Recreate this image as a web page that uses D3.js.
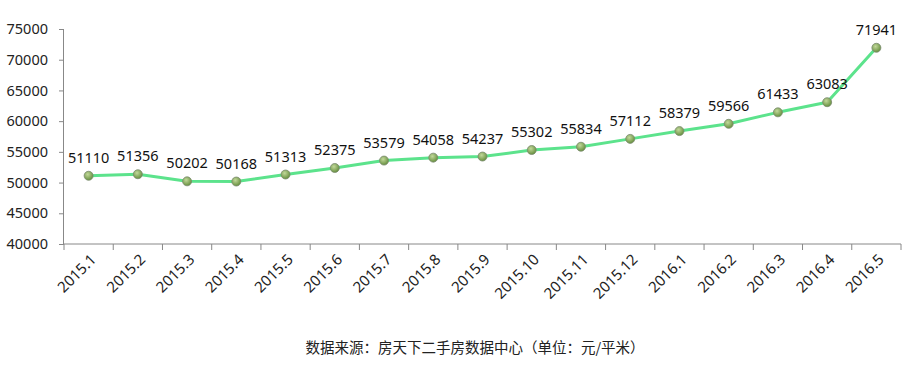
<!DOCTYPE html>
<html>
<head>
<meta charset="utf-8">
<script src="https://cdn.jsdelivr.net/npm/d3@7"></script>
<style>
  body { margin: 0; background: #fff; }
  svg { display: block; }
</style>
</head>
<body>
<svg width="920" height="370"></svg>
<script>
const months = ["2015.1","2015.2","2015.3","2015.4","2015.5","2015.6","2015.7","2015.8","2015.9","2015.10","2015.11","2015.12","2016.1","2016.2","2016.3","2016.4","2016.5"];
const prices = [51110,51356,50202,50168,51313,52375,53579,54058,54237,55302,55834,57112,58379,59566,61433,63083,71941];
const yTicks = [40000,45000,50000,55000,60000,65000,70000,75000];
const source = "数据来源：房天下二手房数据中心（单位：元/平米）";

const font = "'Noto Sans', 'Noto Sans CJK SC', sans-serif";
const cjk = "'Noto Sans CJK SC', sans-serif";
const svg = d3.select("svg");
const plotLeft = 64, plotRight = 901, plotTop = 29, plotBottom = 244;

const x = d3.scaleBand().domain(months).range([plotLeft, plotRight]);
const y = d3.scaleLinear().domain([40000, 75000]).range([plotBottom, plotTop]);
const cx = m => x(m) + x.bandwidth() / 2;

// gradient for the markers
const grad = svg.append("defs").append("radialGradient")
  .attr("id", "dot").attr("cx", "40%").attr("cy", "35%").attr("r", "65%");
grad.append("stop").attr("offset", "0%").attr("stop-color", "#c2d89a");
grad.append("stop").attr("offset", "100%").attr("stop-color", "#67903f");

// y axis
const yAxis = svg.append("g")
  .attr("transform", `translate(${plotLeft},0)`)
  .call(d3.axisLeft(y).tickValues(yTicks).tickSize(5).tickPadding(11).tickFormat(d3.format("d")));
yAxis.select(".domain").attr("stroke", "#888").attr("d", `M-0.5,${plotTop}V${plotBottom}`);
yAxis.selectAll(".tick line").attr("stroke", "#888");
yAxis.selectAll("text").attr("font-family", font).attr("font-size", 14.5).attr("fill", "#222");

// x axis, ticks at category boundaries
const xAxis = svg.append("g").attr("transform", `translate(0,${plotBottom})`);
xAxis.append("line").attr("x1", plotLeft).attr("x2", plotRight).attr("stroke", "#888");
xAxis.selectAll("line.tk")
  .data(months.map(m => x(m)).concat([plotRight]))
  .join("line").attr("class", "tk")
  .attr("x1", d => d).attr("x2", d => d).attr("y1", 0).attr("y2", 6)
  .attr("stroke", "#888");
xAxis.selectAll("text")
  .data(months)
  .join("text")
  .attr("transform", d => `translate(${cx(d) + 1},${9}) rotate(-45)`)
  .attr("text-anchor", "end")
  .attr("dy", "0.7em")
  .attr("font-family", font).attr("font-size", 15).attr("fill", "#222")
  .text(d => d);

// line
const line = d3.line()
  .x((d, i) => cx(months[i]))
  .y(d => y(d));
svg.append("path")
  .datum(prices)
  .attr("fill", "none")
  .attr("stroke", "#5ce38c")
  .attr("stroke-width", 3)
  .attr("stroke-linejoin", "round")
  .attr("d", line);

// markers
svg.append("g").selectAll("circle")
  .data(prices)
  .join("circle")
  .attr("cx", (d, i) => cx(months[i]))
  .attr("cy", d => y(d))
  .attr("r", 4.5)
  .attr("fill", "url(#dot)")
  .attr("stroke", "#7b8a70")
  .attr("stroke-width", 0.8);

// value labels
svg.append("g").selectAll("text")
  .data(prices)
  .join("text")
  .attr("x", (d, i) => cx(months[i]))
  .attr("y", d => y(d) - 13)
  .attr("text-anchor", "middle")
  .attr("font-family", font).attr("font-size", 14.5).attr("fill", "#111")
  .text(d => d);

// source note
svg.append("text")
  .attr("x", 475).attr("y", 353)
  .attr("text-anchor", "middle")
  .attr("font-family", cjk).attr("font-size", 14.5).attr("fill", "#222")
  .text(source);
</script>
</body>
</html>
